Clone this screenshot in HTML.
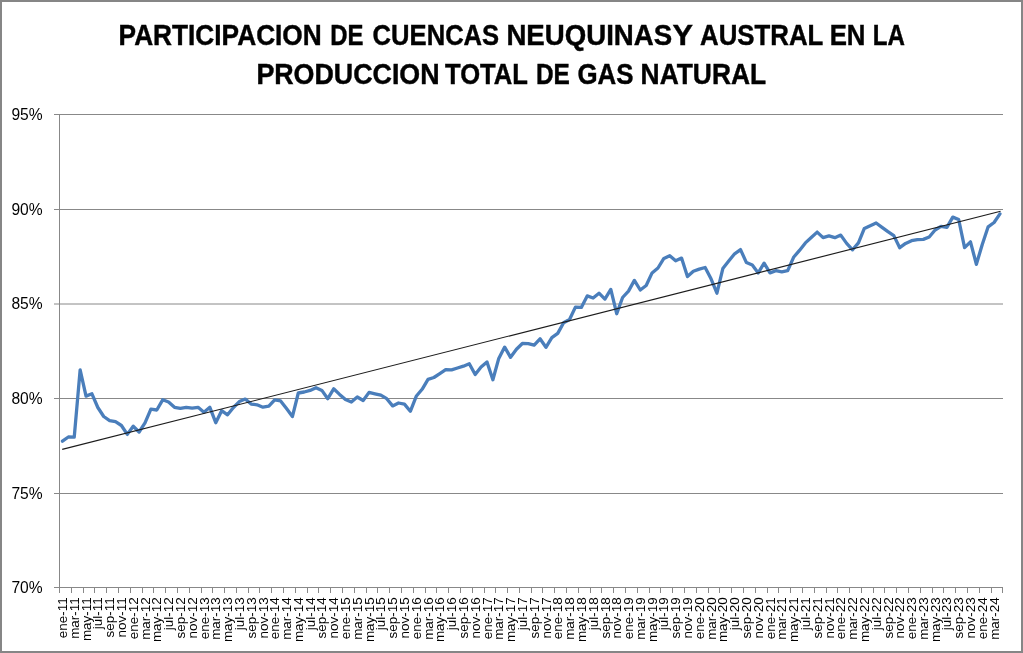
<!DOCTYPE html>
<html><head><meta charset="utf-8"><style>
html,body{margin:0;padding:0;background:#fff;}
svg{display:block;}
text{-webkit-font-smoothing:antialiased;}
text{font-family:"Liberation Sans",sans-serif;fill:#000;}
.t{font-weight:bold;font-size:29.5px;stroke:#000;stroke-width:0.45px;}
.yl{font-size:15.6px;}
.xl{font-size:12px;}
</style></head><body>
<svg width="1023" height="653" viewBox="0 0 1023 653">
<rect x="1" y="1" width="1021" height="651" fill="#fff" stroke="#868686" stroke-width="2"/>
<line x1="54" y1="114.5" x2="1003" y2="114.5" stroke="#888888" stroke-width="1"/>
<line x1="54" y1="209.5" x2="1003" y2="209.5" stroke="#888888" stroke-width="1"/>
<line x1="54" y1="304.0" x2="1003" y2="304.0" stroke="#888888" stroke-width="1"/>
<line x1="54" y1="398.5" x2="1003" y2="398.5" stroke="#888888" stroke-width="1"/>
<line x1="54" y1="493.5" x2="1003" y2="493.5" stroke="#888888" stroke-width="1"/>
<line x1="54" y1="587.5" x2="1003" y2="587.5" stroke="#888888" stroke-width="1"/>
<line x1="59.5" y1="114" x2="59.5" y2="587.5" stroke="#888888" stroke-width="1"/>
<line x1="59.5" y1="588" x2="59.5" y2="593" stroke="#888888" stroke-width="1"/>
<line x1="71.5" y1="588" x2="71.5" y2="593" stroke="#888888" stroke-width="1"/>
<line x1="83.5" y1="588" x2="83.5" y2="593" stroke="#888888" stroke-width="1"/>
<line x1="94.5" y1="588" x2="94.5" y2="593" stroke="#888888" stroke-width="1"/>
<line x1="106.5" y1="588" x2="106.5" y2="593" stroke="#888888" stroke-width="1"/>
<line x1="118.5" y1="588" x2="118.5" y2="593" stroke="#888888" stroke-width="1"/>
<line x1="130.5" y1="588" x2="130.5" y2="593" stroke="#888888" stroke-width="1"/>
<line x1="142.5" y1="588" x2="142.5" y2="593" stroke="#888888" stroke-width="1"/>
<line x1="153.5" y1="588" x2="153.5" y2="593" stroke="#888888" stroke-width="1"/>
<line x1="165.5" y1="588" x2="165.5" y2="593" stroke="#888888" stroke-width="1"/>
<line x1="177.5" y1="588" x2="177.5" y2="593" stroke="#888888" stroke-width="1"/>
<line x1="189.5" y1="588" x2="189.5" y2="593" stroke="#888888" stroke-width="1"/>
<line x1="201.5" y1="588" x2="201.5" y2="593" stroke="#888888" stroke-width="1"/>
<line x1="212.5" y1="588" x2="212.5" y2="593" stroke="#888888" stroke-width="1"/>
<line x1="224.5" y1="588" x2="224.5" y2="593" stroke="#888888" stroke-width="1"/>
<line x1="236.5" y1="588" x2="236.5" y2="593" stroke="#888888" stroke-width="1"/>
<line x1="248.5" y1="588" x2="248.5" y2="593" stroke="#888888" stroke-width="1"/>
<line x1="259.5" y1="588" x2="259.5" y2="593" stroke="#888888" stroke-width="1"/>
<line x1="271.5" y1="588" x2="271.5" y2="593" stroke="#888888" stroke-width="1"/>
<line x1="283.5" y1="588" x2="283.5" y2="593" stroke="#888888" stroke-width="1"/>
<line x1="295.5" y1="588" x2="295.5" y2="593" stroke="#888888" stroke-width="1"/>
<line x1="307.5" y1="588" x2="307.5" y2="593" stroke="#888888" stroke-width="1"/>
<line x1="318.5" y1="588" x2="318.5" y2="593" stroke="#888888" stroke-width="1"/>
<line x1="330.5" y1="588" x2="330.5" y2="593" stroke="#888888" stroke-width="1"/>
<line x1="342.5" y1="588" x2="342.5" y2="593" stroke="#888888" stroke-width="1"/>
<line x1="354.5" y1="588" x2="354.5" y2="593" stroke="#888888" stroke-width="1"/>
<line x1="366.5" y1="588" x2="366.5" y2="593" stroke="#888888" stroke-width="1"/>
<line x1="377.5" y1="588" x2="377.5" y2="593" stroke="#888888" stroke-width="1"/>
<line x1="389.5" y1="588" x2="389.5" y2="593" stroke="#888888" stroke-width="1"/>
<line x1="401.5" y1="588" x2="401.5" y2="593" stroke="#888888" stroke-width="1"/>
<line x1="413.5" y1="588" x2="413.5" y2="593" stroke="#888888" stroke-width="1"/>
<line x1="425.5" y1="588" x2="425.5" y2="593" stroke="#888888" stroke-width="1"/>
<line x1="436.5" y1="588" x2="436.5" y2="593" stroke="#888888" stroke-width="1"/>
<line x1="448.5" y1="588" x2="448.5" y2="593" stroke="#888888" stroke-width="1"/>
<line x1="460.5" y1="588" x2="460.5" y2="593" stroke="#888888" stroke-width="1"/>
<line x1="472.5" y1="588" x2="472.5" y2="593" stroke="#888888" stroke-width="1"/>
<line x1="484.5" y1="588" x2="484.5" y2="593" stroke="#888888" stroke-width="1"/>
<line x1="495.5" y1="588" x2="495.5" y2="593" stroke="#888888" stroke-width="1"/>
<line x1="507.5" y1="588" x2="507.5" y2="593" stroke="#888888" stroke-width="1"/>
<line x1="519.5" y1="588" x2="519.5" y2="593" stroke="#888888" stroke-width="1"/>
<line x1="531.5" y1="588" x2="531.5" y2="593" stroke="#888888" stroke-width="1"/>
<line x1="542.5" y1="588" x2="542.5" y2="593" stroke="#888888" stroke-width="1"/>
<line x1="554.5" y1="588" x2="554.5" y2="593" stroke="#888888" stroke-width="1"/>
<line x1="566.5" y1="588" x2="566.5" y2="593" stroke="#888888" stroke-width="1"/>
<line x1="578.5" y1="588" x2="578.5" y2="593" stroke="#888888" stroke-width="1"/>
<line x1="590.5" y1="588" x2="590.5" y2="593" stroke="#888888" stroke-width="1"/>
<line x1="601.5" y1="588" x2="601.5" y2="593" stroke="#888888" stroke-width="1"/>
<line x1="613.5" y1="588" x2="613.5" y2="593" stroke="#888888" stroke-width="1"/>
<line x1="625.5" y1="588" x2="625.5" y2="593" stroke="#888888" stroke-width="1"/>
<line x1="637.5" y1="588" x2="637.5" y2="593" stroke="#888888" stroke-width="1"/>
<line x1="649.5" y1="588" x2="649.5" y2="593" stroke="#888888" stroke-width="1"/>
<line x1="660.5" y1="588" x2="660.5" y2="593" stroke="#888888" stroke-width="1"/>
<line x1="672.5" y1="588" x2="672.5" y2="593" stroke="#888888" stroke-width="1"/>
<line x1="684.5" y1="588" x2="684.5" y2="593" stroke="#888888" stroke-width="1"/>
<line x1="696.5" y1="588" x2="696.5" y2="593" stroke="#888888" stroke-width="1"/>
<line x1="708.5" y1="588" x2="708.5" y2="593" stroke="#888888" stroke-width="1"/>
<line x1="719.5" y1="588" x2="719.5" y2="593" stroke="#888888" stroke-width="1"/>
<line x1="731.5" y1="588" x2="731.5" y2="593" stroke="#888888" stroke-width="1"/>
<line x1="743.5" y1="588" x2="743.5" y2="593" stroke="#888888" stroke-width="1"/>
<line x1="755.5" y1="588" x2="755.5" y2="593" stroke="#888888" stroke-width="1"/>
<line x1="767.5" y1="588" x2="767.5" y2="593" stroke="#888888" stroke-width="1"/>
<line x1="778.5" y1="588" x2="778.5" y2="593" stroke="#888888" stroke-width="1"/>
<line x1="790.5" y1="588" x2="790.5" y2="593" stroke="#888888" stroke-width="1"/>
<line x1="802.5" y1="588" x2="802.5" y2="593" stroke="#888888" stroke-width="1"/>
<line x1="814.5" y1="588" x2="814.5" y2="593" stroke="#888888" stroke-width="1"/>
<line x1="826.5" y1="588" x2="826.5" y2="593" stroke="#888888" stroke-width="1"/>
<line x1="837.5" y1="588" x2="837.5" y2="593" stroke="#888888" stroke-width="1"/>
<line x1="849.5" y1="588" x2="849.5" y2="593" stroke="#888888" stroke-width="1"/>
<line x1="861.5" y1="588" x2="861.5" y2="593" stroke="#888888" stroke-width="1"/>
<line x1="873.5" y1="588" x2="873.5" y2="593" stroke="#888888" stroke-width="1"/>
<line x1="884.5" y1="588" x2="884.5" y2="593" stroke="#888888" stroke-width="1"/>
<line x1="896.5" y1="588" x2="896.5" y2="593" stroke="#888888" stroke-width="1"/>
<line x1="908.5" y1="588" x2="908.5" y2="593" stroke="#888888" stroke-width="1"/>
<line x1="920.5" y1="588" x2="920.5" y2="593" stroke="#888888" stroke-width="1"/>
<line x1="932.5" y1="588" x2="932.5" y2="593" stroke="#888888" stroke-width="1"/>
<line x1="943.5" y1="588" x2="943.5" y2="593" stroke="#888888" stroke-width="1"/>
<line x1="955.5" y1="588" x2="955.5" y2="593" stroke="#888888" stroke-width="1"/>
<line x1="967.5" y1="588" x2="967.5" y2="593" stroke="#888888" stroke-width="1"/>
<line x1="979.5" y1="588" x2="979.5" y2="593" stroke="#888888" stroke-width="1"/>
<line x1="991.5" y1="588" x2="991.5" y2="593" stroke="#888888" stroke-width="1"/>
<line x1="1002.5" y1="588" x2="1002.5" y2="593" stroke="#888888" stroke-width="1"/>
<polyline points="62.45,441.2 68.34,437.0 74.24,437.2 80.14,369.9 86.03,396.1 91.93,393.8 97.83,407.5 103.72,416.5 109.62,420.6 115.51,421.7 121.41,425.5 127.31,434.4 133.20,426.2 139.10,432.0 145.00,422.9 150.89,409.2 156.79,410.0 162.68,399.8 168.58,402.0 174.48,407.3 180.37,408.4 186.27,407.3 192.17,408.2 198.06,407.3 203.96,412.2 209.85,407.3 215.75,422.7 221.65,410.7 227.54,414.8 233.44,407.5 239.34,401.6 245.23,399.1 251.13,404.1 257.02,404.8 262.92,407.2 268.82,406.2 274.71,399.8 280.61,400.9 286.51,408.6 292.40,416.6 298.30,393.0 304.19,392.0 310.09,390.4 315.99,387.7 321.88,390.4 327.78,398.7 333.68,388.8 339.57,394.4 345.47,399.5 351.36,402.1 357.26,397.0 363.16,400.5 369.05,392.4 374.95,393.8 380.85,395.2 386.74,398.7 392.64,405.9 398.53,403.0 404.43,404.1 410.33,411.3 416.22,396.3 422.12,389.3 428.02,379.4 433.91,377.5 439.81,373.6 445.70,369.6 451.60,369.9 457.50,368.0 463.39,366.2 469.29,363.8 475.19,374.5 481.08,367.0 486.98,361.9 492.87,379.8 498.77,358.4 504.67,347.1 510.56,357.3 516.46,349.3 522.36,343.5 528.25,343.6 534.15,345.2 540.04,338.8 545.94,347.3 551.84,337.7 557.73,333.4 563.63,322.7 569.53,319.5 575.42,307.1 581.32,307.4 587.21,295.9 593.11,298.0 599.01,293.2 604.90,299.1 610.80,289.4 616.70,313.7 622.59,297.5 628.49,291.1 634.38,280.4 640.28,290.0 646.18,285.5 652.07,272.9 657.97,268.0 663.87,258.4 669.76,255.7 675.66,260.8 681.55,258.1 687.45,276.6 693.35,271.3 699.24,269.1 705.14,267.5 711.04,278.8 716.93,293.2 722.83,268.6 728.72,261.1 734.62,253.8 740.52,249.6 746.41,262.6 752.31,265.1 758.21,272.9 764.10,263.2 770.00,272.9 775.89,270.7 781.79,271.8 787.69,270.7 793.58,257.3 799.48,250.4 805.38,242.9 811.27,237.5 817.17,232.1 823.06,237.6 828.96,235.9 834.86,237.7 840.75,235.1 846.65,243.4 852.55,249.8 858.44,242.9 864.34,228.4 870.23,225.7 876.13,223.0 882.03,227.3 887.92,231.6 893.82,235.6 899.72,247.7 905.61,243.4 911.51,240.7 917.40,239.6 923.30,239.4 929.20,237.0 935.09,230.0 940.99,226.3 946.89,227.3 952.78,217.1 958.68,219.5 964.57,247.7 970.47,241.8 976.37,264.3 982.26,244.5 988.16,226.8 994.06,222.5 999.95,213.9" fill="none" stroke="#4a7ebb" stroke-width="3.3" stroke-linejoin="round" stroke-linecap="round"/>
<line x1="62.2" y1="449.4" x2="1000.6" y2="211.3" stroke="#1c1c1c" stroke-width="1.15"/>
<g opacity="0.999">
<text x="42.6" y="120.1" text-anchor="end" class="yl">95%</text>
<text x="42.6" y="214.7" text-anchor="end" class="yl">90%</text>
<text x="42.6" y="309.3" text-anchor="end" class="yl">85%</text>
<text x="42.6" y="403.9" text-anchor="end" class="yl">80%</text>
<text x="42.6" y="498.5" text-anchor="end" class="yl">75%</text>
<text x="42.6" y="593.1" text-anchor="end" class="yl">70%</text>
<text transform="translate(67.05,597.3) rotate(-90) scale(1.12,1)" text-anchor="end" class="xl">ene-11</text>
<text transform="translate(78.84,597.3) rotate(-90) scale(1.12,1)" text-anchor="end" class="xl">mar-11</text>
<text transform="translate(90.63,597.3) rotate(-90) scale(1.12,1)" text-anchor="end" class="xl">may-11</text>
<text transform="translate(102.43,597.3) rotate(-90) scale(1.12,1)" text-anchor="end" class="xl">jul-11</text>
<text transform="translate(114.22,597.3) rotate(-90) scale(1.12,1)" text-anchor="end" class="xl">sep-11</text>
<text transform="translate(126.01,597.3) rotate(-90) scale(1.12,1)" text-anchor="end" class="xl">nov-11</text>
<text transform="translate(137.80,597.3) rotate(-90) scale(1.12,1)" text-anchor="end" class="xl">ene-12</text>
<text transform="translate(149.60,597.3) rotate(-90) scale(1.12,1)" text-anchor="end" class="xl">mar-12</text>
<text transform="translate(161.39,597.3) rotate(-90) scale(1.12,1)" text-anchor="end" class="xl">may-12</text>
<text transform="translate(173.18,597.3) rotate(-90) scale(1.12,1)" text-anchor="end" class="xl">jul-12</text>
<text transform="translate(184.97,597.3) rotate(-90) scale(1.12,1)" text-anchor="end" class="xl">sep-12</text>
<text transform="translate(196.77,597.3) rotate(-90) scale(1.12,1)" text-anchor="end" class="xl">nov-12</text>
<text transform="translate(208.56,597.3) rotate(-90) scale(1.12,1)" text-anchor="end" class="xl">ene-13</text>
<text transform="translate(220.35,597.3) rotate(-90) scale(1.12,1)" text-anchor="end" class="xl">mar-13</text>
<text transform="translate(232.14,597.3) rotate(-90) scale(1.12,1)" text-anchor="end" class="xl">may-13</text>
<text transform="translate(243.94,597.3) rotate(-90) scale(1.12,1)" text-anchor="end" class="xl">jul-13</text>
<text transform="translate(255.73,597.3) rotate(-90) scale(1.12,1)" text-anchor="end" class="xl">sep-13</text>
<text transform="translate(267.52,597.3) rotate(-90) scale(1.12,1)" text-anchor="end" class="xl">nov-13</text>
<text transform="translate(279.31,597.3) rotate(-90) scale(1.12,1)" text-anchor="end" class="xl">ene-14</text>
<text transform="translate(291.11,597.3) rotate(-90) scale(1.12,1)" text-anchor="end" class="xl">mar-14</text>
<text transform="translate(302.90,597.3) rotate(-90) scale(1.12,1)" text-anchor="end" class="xl">may-14</text>
<text transform="translate(314.69,597.3) rotate(-90) scale(1.12,1)" text-anchor="end" class="xl">jul-14</text>
<text transform="translate(326.48,597.3) rotate(-90) scale(1.12,1)" text-anchor="end" class="xl">sep-14</text>
<text transform="translate(338.28,597.3) rotate(-90) scale(1.12,1)" text-anchor="end" class="xl">nov-14</text>
<text transform="translate(350.07,597.3) rotate(-90) scale(1.12,1)" text-anchor="end" class="xl">ene-15</text>
<text transform="translate(361.86,597.3) rotate(-90) scale(1.12,1)" text-anchor="end" class="xl">mar-15</text>
<text transform="translate(373.65,597.3) rotate(-90) scale(1.12,1)" text-anchor="end" class="xl">may-15</text>
<text transform="translate(385.45,597.3) rotate(-90) scale(1.12,1)" text-anchor="end" class="xl">jul-15</text>
<text transform="translate(397.24,597.3) rotate(-90) scale(1.12,1)" text-anchor="end" class="xl">sep-15</text>
<text transform="translate(409.03,597.3) rotate(-90) scale(1.12,1)" text-anchor="end" class="xl">nov-15</text>
<text transform="translate(420.82,597.3) rotate(-90) scale(1.12,1)" text-anchor="end" class="xl">ene-16</text>
<text transform="translate(432.62,597.3) rotate(-90) scale(1.12,1)" text-anchor="end" class="xl">mar-16</text>
<text transform="translate(444.41,597.3) rotate(-90) scale(1.12,1)" text-anchor="end" class="xl">may-16</text>
<text transform="translate(456.20,597.3) rotate(-90) scale(1.12,1)" text-anchor="end" class="xl">jul-16</text>
<text transform="translate(467.99,597.3) rotate(-90) scale(1.12,1)" text-anchor="end" class="xl">sep-16</text>
<text transform="translate(479.79,597.3) rotate(-90) scale(1.12,1)" text-anchor="end" class="xl">nov-16</text>
<text transform="translate(491.58,597.3) rotate(-90) scale(1.12,1)" text-anchor="end" class="xl">ene-17</text>
<text transform="translate(503.37,597.3) rotate(-90) scale(1.12,1)" text-anchor="end" class="xl">mar-17</text>
<text transform="translate(515.16,597.3) rotate(-90) scale(1.12,1)" text-anchor="end" class="xl">may-17</text>
<text transform="translate(526.96,597.3) rotate(-90) scale(1.12,1)" text-anchor="end" class="xl">jul-17</text>
<text transform="translate(538.75,597.3) rotate(-90) scale(1.12,1)" text-anchor="end" class="xl">sep-17</text>
<text transform="translate(550.54,597.3) rotate(-90) scale(1.12,1)" text-anchor="end" class="xl">nov-17</text>
<text transform="translate(562.33,597.3) rotate(-90) scale(1.12,1)" text-anchor="end" class="xl">ene-18</text>
<text transform="translate(574.13,597.3) rotate(-90) scale(1.12,1)" text-anchor="end" class="xl">mar-18</text>
<text transform="translate(585.92,597.3) rotate(-90) scale(1.12,1)" text-anchor="end" class="xl">may-18</text>
<text transform="translate(597.71,597.3) rotate(-90) scale(1.12,1)" text-anchor="end" class="xl">jul-18</text>
<text transform="translate(609.50,597.3) rotate(-90) scale(1.12,1)" text-anchor="end" class="xl">sep-18</text>
<text transform="translate(621.30,597.3) rotate(-90) scale(1.12,1)" text-anchor="end" class="xl">nov-18</text>
<text transform="translate(633.09,597.3) rotate(-90) scale(1.12,1)" text-anchor="end" class="xl">ene-19</text>
<text transform="translate(644.88,597.3) rotate(-90) scale(1.12,1)" text-anchor="end" class="xl">mar-19</text>
<text transform="translate(656.67,597.3) rotate(-90) scale(1.12,1)" text-anchor="end" class="xl">may-19</text>
<text transform="translate(668.47,597.3) rotate(-90) scale(1.12,1)" text-anchor="end" class="xl">jul-19</text>
<text transform="translate(680.26,597.3) rotate(-90) scale(1.12,1)" text-anchor="end" class="xl">sep-19</text>
<text transform="translate(692.05,597.3) rotate(-90) scale(1.12,1)" text-anchor="end" class="xl">nov-19</text>
<text transform="translate(703.84,597.3) rotate(-90) scale(1.12,1)" text-anchor="end" class="xl">ene-20</text>
<text transform="translate(715.64,597.3) rotate(-90) scale(1.12,1)" text-anchor="end" class="xl">mar-20</text>
<text transform="translate(727.43,597.3) rotate(-90) scale(1.12,1)" text-anchor="end" class="xl">may-20</text>
<text transform="translate(739.22,597.3) rotate(-90) scale(1.12,1)" text-anchor="end" class="xl">jul-20</text>
<text transform="translate(751.01,597.3) rotate(-90) scale(1.12,1)" text-anchor="end" class="xl">sep-20</text>
<text transform="translate(762.81,597.3) rotate(-90) scale(1.12,1)" text-anchor="end" class="xl">nov-20</text>
<text transform="translate(774.60,597.3) rotate(-90) scale(1.12,1)" text-anchor="end" class="xl">ene-21</text>
<text transform="translate(786.39,597.3) rotate(-90) scale(1.12,1)" text-anchor="end" class="xl">mar-21</text>
<text transform="translate(798.18,597.3) rotate(-90) scale(1.12,1)" text-anchor="end" class="xl">may-21</text>
<text transform="translate(809.98,597.3) rotate(-90) scale(1.12,1)" text-anchor="end" class="xl">jul-21</text>
<text transform="translate(821.77,597.3) rotate(-90) scale(1.12,1)" text-anchor="end" class="xl">sep-21</text>
<text transform="translate(833.56,597.3) rotate(-90) scale(1.12,1)" text-anchor="end" class="xl">nov-21</text>
<text transform="translate(845.35,597.3) rotate(-90) scale(1.12,1)" text-anchor="end" class="xl">ene-22</text>
<text transform="translate(857.15,597.3) rotate(-90) scale(1.12,1)" text-anchor="end" class="xl">mar-22</text>
<text transform="translate(868.94,597.3) rotate(-90) scale(1.12,1)" text-anchor="end" class="xl">may-22</text>
<text transform="translate(880.73,597.3) rotate(-90) scale(1.12,1)" text-anchor="end" class="xl">jul-22</text>
<text transform="translate(892.52,597.3) rotate(-90) scale(1.12,1)" text-anchor="end" class="xl">sep-22</text>
<text transform="translate(904.32,597.3) rotate(-90) scale(1.12,1)" text-anchor="end" class="xl">nov-22</text>
<text transform="translate(916.11,597.3) rotate(-90) scale(1.12,1)" text-anchor="end" class="xl">ene-23</text>
<text transform="translate(927.90,597.3) rotate(-90) scale(1.12,1)" text-anchor="end" class="xl">mar-23</text>
<text transform="translate(939.69,597.3) rotate(-90) scale(1.12,1)" text-anchor="end" class="xl">may-23</text>
<text transform="translate(951.49,597.3) rotate(-90) scale(1.12,1)" text-anchor="end" class="xl">jul-23</text>
<text transform="translate(963.28,597.3) rotate(-90) scale(1.12,1)" text-anchor="end" class="xl">sep-23</text>
<text transform="translate(975.07,597.3) rotate(-90) scale(1.12,1)" text-anchor="end" class="xl">nov-23</text>
<text transform="translate(986.86,597.3) rotate(-90) scale(1.12,1)" text-anchor="end" class="xl">ene-24</text>
<text transform="translate(998.66,597.3) rotate(-90) scale(1.12,1)" text-anchor="end" class="xl">mar-24</text>
<text x="118.59" y="45" class="t" textLength="203.17" lengthAdjust="spacingAndGlyphs">PARTICIPACION</text>
<text x="330.15" y="45" class="t" textLength="33.23" lengthAdjust="spacingAndGlyphs">DE</text>
<text x="372.62" y="45" class="t" textLength="126.56" lengthAdjust="spacingAndGlyphs">CUENCAS</text>
<text x="506.39" y="45" class="t" textLength="165.8" lengthAdjust="spacingAndGlyphs">NEUQUINAS</text>
<text x="672.58" y="45" class="t" textLength="20.47" lengthAdjust="spacingAndGlyphs">Y</text>
<text x="700.02" y="45" class="t" textLength="123.31" lengthAdjust="spacingAndGlyphs">AUSTRAL</text>
<text x="829.68" y="45" class="t" textLength="35.82" lengthAdjust="spacingAndGlyphs">EN</text>
<text x="872.76" y="45" class="t" textLength="32.15" lengthAdjust="spacingAndGlyphs">LA</text>
<text x="256.39" y="83.6" class="t" textLength="183.21" lengthAdjust="spacingAndGlyphs">PRODUCCION</text>
<text x="445.03" y="83.6" class="t" textLength="82.93" lengthAdjust="spacingAndGlyphs">TOTAL</text>
<text x="535.95" y="83.6" class="t" textLength="33.93" lengthAdjust="spacingAndGlyphs">DE</text>
<text x="577.38" y="83.6" class="t" textLength="56.03" lengthAdjust="spacingAndGlyphs">GAS</text>
<text x="640.59" y="83.6" class="t" textLength="125.52" lengthAdjust="spacingAndGlyphs">NATURAL</text>
</g>
</svg>
</body></html>
